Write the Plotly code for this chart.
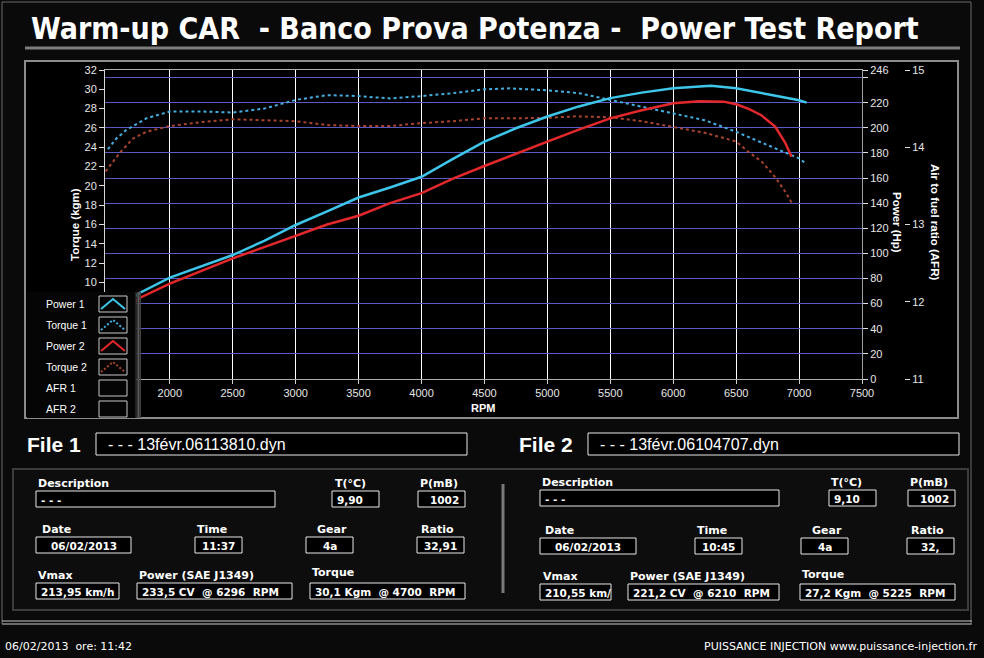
import plotly.graph_objects as go

W, H = 984, 658

# ---- curve data ----
rpm_p1 = [1500, 1760, 2000, 2250, 2500, 2750, 3000, 3250, 3500, 3750, 4000, 4250, 4500,
          4750, 5000, 5250, 5500, 5750, 6000, 6300, 6500, 6750, 7000, 7060]
power_1 = [50, 68.5, 80.7, 90, 98.7, 110, 122.6, 133.5, 144.5, 152.5, 161, 175.2, 189,
           199.6, 209, 217, 223.6, 228, 231.5, 233.5, 231.5, 226.7, 222, 220]

rpm_p2 = [1500, 1760, 2000, 2250, 2500, 2750, 3000, 3250, 3500, 3750, 4000, 4250, 4500,
          4750, 5000, 5250, 5500, 5750, 6000, 6210, 6400, 6500, 6600, 6700, 6810, 6890, 6940]
power_2 = [45, 64.5, 76, 86, 96, 105, 114, 123, 130, 140, 148, 159.5, 169.6,
           179.5, 189, 198.5, 207.5, 214, 219.5, 221.2, 220.8, 218.7, 215, 210, 201, 188, 177]

rpm_t1 = [1508, 1575, 1655, 1814, 2000, 2250, 2500, 2750, 3000, 3250, 3500, 3750, 4000,
          4250, 4500, 4700, 5000, 5250, 5500, 5750, 6000, 6250, 6500, 6750, 7000, 7056]
torque_1 = [23.8, 24.9, 25.8, 27.0, 27.7, 27.7, 27.6, 28.0, 28.9, 29.4, 29.3, 29.05, 29.3,
            29.6, 30.0, 30.1, 29.9, 29.6, 28.9, 28.2, 27.5, 26.8, 25.6, 24.2, 22.85, 22.3]

rpm_t2 = [1490, 1601, 1707, 1814, 2000, 2250, 2500, 2750, 3000, 3250, 3500, 3750, 4000,
          4250, 4500, 4750, 5000, 5225, 5500, 5750, 6000, 6250, 6500, 6600, 6704, 6810, 6890, 6944]
torque_2 = [21.5, 23.4, 24.9, 25.6, 26.2, 26.6, 26.9, 26.8, 26.7, 26.3, 26.2, 26.2, 26.5,
            26.7, 27.0, 27.0, 27.05, 27.2, 27.1, 26.7, 26.1, 25.5, 24.6, 23.5, 22.5, 20.9, 19.4, 18.2]

afr_1 = []
afr_2 = []

rpm_ticks = [2000, 2500, 3000, 3500, 4000, 4500, 5000, 5500, 6000, 6500, 7000, 7500]
torque_ticks = [10, 12, 14, 16, 18, 20, 22, 24, 26, 28, 30, 32]
power_ticks = [0, 20, 40, 60, 80, 100, 120, 140, 160, 180, 200, 220, 240, 246]
power_ticktext = ["0", "20", "40", "60", "80", "100", "120", "140", "160", "180", "200", "220", "", "246"]
afr_ticks = [11, 12, 13, 14, 15]

legend_names = ["Power 1", "Torque 1", "Power 2", "Torque 2", "AFR 1", "AFR 2"]

file_names = ["- - - 13févr.06113810.dyn", "- - - 13févr.06104707.dyn"]
descriptions = ["- - -", "- - -"]
temps = ["9,90", "9,10"]
pressures = ["1002", "1002"]
dates = ["06/02/2013", "06/02/2013"]
times = ["11:37", "10:45"]
gears = ["4a", "4a"]
ratios = ["32,91", "32,"]
vmax = ["213,95 km/h", "210,55 km/"]
power_max = ["233,5 CV  @ 6296  RPM", "221,2 CV  @ 6210  RPM"]
torque_max = ["30,1 Kgm  @ 4700  RPM", "27,2 Kgm  @ 5225  RPM"]

CYAN = "#3ec6ea"
CYAN_DOT = "#44aee0"
RED = "#e2282a"
BROWN = "#a8442e"
FONT = "Liberation Sans"
TAHOMA = "DejaVu Sans"


def X(p):
    return p / W


def Y(p):
    return 1 - p / H


shapes = []
annotations = []


def rect(x0, y0, x1, y1, line="#ffffff", fill="#000000", width=1, layer="below"):
    shapes.append(dict(type="rect", xref="paper", yref="paper", x0=X(x0), x1=X(x1),
                       y0=Y(y0), y1=Y(y1), line=dict(color=line, width=width),
                       fillcolor=fill, layer=layer))


def hline(x0, x1, y, color, width):
    shapes.append(dict(type="line", xref="paper", yref="paper", x0=X(x0), x1=X(x1),
                       y0=Y(y), y1=Y(y), line=dict(color=color, width=width), layer="below"))


def text(x, y, s, size=11, color="#ffffff", family=TAHOMA, anchor="left", angle=0):
    annotations.append(dict(x=X(x), y=Y(y), xref="paper", yref="paper", text=s,
                            showarrow=False, xanchor=anchor, yanchor="middle",
                            textangle=angle, font=dict(size=size, color=color, family=family)))


def field(label, lx, ly, value, bx0, bx1, by, align="left"):
    text(lx, ly, "<b>" + label + "</b>", size=11)
    rect(bx0, by, bx1, by + 16, line="#e8e8e8", fill="#000000", width=1)
    if align == "left":
        text(bx0 + 3, by + 8.5, "<b>" + value + "</b>", size=10.5)
    elif align == "right":
        text(bx1 - 4, by + 8.5, "<b>" + value + "</b>", size=10.5, anchor="right")
    else:
        text((bx0 + bx1) / 2, by + 8.5, "<b>" + value + "</b>", size=10.5, anchor="center")


# ---- background frames ----
rect(2, 2, 971, 624, line="#6a6a6a", fill="rgba(0,0,0,0)", width=1)
hline(25, 960, 48, "#7c7c7c", 3)
rect(25, 61, 958, 418, line="#8c8c8c", fill="#000000", width=2)
rect(13, 469, 968, 610, line="#3c3c3c", fill="#0d0d0d", width=2)
hline(2, 972, 621, "#c8c8c8", 1)
hline(2, 972, 624, "#9a9a9a", 1)
shapes.append(dict(type="line", xref="paper", yref="paper", x0=X(503), x1=X(503),
                   y0=Y(484), y1=Y(593), line=dict(color="#7a7a7a", width=3), layer="below"))

# title
text(29, 29, "<b>Warm-up CAR \u00a0- Banco Prova Potenza - \u00a0Power Test Report</b>",
     size=30, family="Liberation Sans Narrow, DejaVu Sans Condensed, Arial Narrow")

# axis titles
text(75, 225, "<b>Torque (kgm)</b>", size=11.5, family=FONT, anchor="center", angle=-90)
text(897, 222, "<b>Power (Hp)</b>", size=11.5, family=FONT, anchor="center", angle=90)
text(935, 222, "<b>Air to fuel ratio (AFR)</b>", size=11.5, family=FONT, anchor="center", angle=90)
text(483, 408, "<b>RPM</b>", size=11, family=FONT, anchor="center")

# ---- legend panel drawn over the plot ----
rect(27, 292, 135, 418, line="#000000", fill="#050505", width=0, layer="above")
for i, g in enumerate(["#202020", "#3a3a3a", "#5a5a5a", "#404040"]):
    rect(135 + 1.5 * i, 292, 136.5 + 1.5 * i, 418, line=g, fill=g, width=0, layer="above")
leg_styles = [(CYAN, "solid", 2), (CYAN_DOT, "2px,2px", 2), (RED, "solid", 2),
              (BROWN, "2px,2px", 2), (None, None, 0), (None, None, 0)]
for i, name in enumerate(legend_names):
    cy = 304 + 21 * i
    text(44, cy, name, size=10.5, family=FONT)
    rect(99, cy - 8, 127, cy + 8, line="#c8c8c8", fill="#050505", width=1, layer="above")
    col, dash, wd = leg_styles[i]
    if col:
        shapes.append(dict(type="path", xref="paper", yref="paper", layer="above",
                           path="M %f,%f L %f,%f L %f,%f" % (X(101), Y(cy + 5), X(113), Y(cy - 5),
                                                            X(125), Y(cy + 5)),
                           line=dict(color=col, width=wd, dash=dash)))

# ---- file header rows and info panels ----
for k, off in enumerate([0, 492]):
    text(25 + off, 444, "<b>File %d</b>" % (k + 1), size=21, family=FONT)
    rect(96 + off, 433, 467 + off, 455, line="#e8e8e8", fill="#000000", width=1)
    text(106 + off, 444, file_names[k], size=16, family=FONT)

p = 0
field("Description", 36, 483, descriptions[p], 36, 275, 491)
field("T(°C)", 333, 483, temps[p], 332, 379, 491)
field("P(mB)", 418, 483, pressures[p], 418, 465, 491, "right")
field("Date", 40, 529, dates[p], 36, 131, 537, "center")
field("Time", 195, 529, times[p], 195, 242, 537, "center")
field("Gear", 315, 529, gears[p], 306, 353, 537, "center")
field("Ratio", 419, 529, ratios[p], 417, 464, 537, "center")
field("Vmax", 36, 575, vmax[p], 36, 119, 583)
field("Power (SAE J1349)", 137, 575, power_max[p], 137, 292, 583)
field("Torque", 310, 572, torque_max[p], 310, 465, 583)

p = 1
field("Description", 540, 482, descriptions[p], 540, 779, 490)
field("T(°C)", 829, 482, temps[p], 829, 876, 490)
field("P(mB)", 908, 482, pressures[p], 908, 955, 490, "right")
field("Date", 543, 530, dates[p], 540, 636, 538, "center")
field("Time", 695, 530, times[p], 695, 742, 538, "center")
field("Gear", 810, 530, gears[p], 801, 848, 538, "center")
field("Ratio", 909, 530, ratios[p], 907, 954, 538, "center")
field("Vmax", 541, 576, vmax[p], 540, 611, 584)
field("Power (SAE J1349)", 628, 576, power_max[p], 628, 779, 584)
field("Torque", 800, 574, torque_max[p], 800, 955, 584)

# footer
text(3, 646, "06/02/2013  ore: 11:42".replace("  ", "\u00a0 "), size=11)
text(979, 646, "PUISSANCE INJECTION www.puissance-injection.fr", size=11, anchor="right")

# ---- traces ----
fig = go.Figure()
fig.add_trace(go.Scatter(x=rpm_t2, y=torque_2, name="Torque 2", mode="lines", yaxis="y",
                         line=dict(color=BROWN, width=2, dash="3px,3px")))
fig.add_trace(go.Scatter(x=rpm_t1, y=torque_1, name="Torque 1", mode="lines", yaxis="y",
                         line=dict(color=CYAN_DOT, width=2, dash="3px,3px")))
fig.add_trace(go.Scatter(x=rpm_p2, y=power_2, name="Power 2", mode="lines", yaxis="y2",
                         line=dict(color=RED, width=2.5)))
fig.add_trace(go.Scatter(x=rpm_p1, y=power_1, name="Power 1", mode="lines", yaxis="y2",
                         line=dict(color=CYAN, width=2.5)))
fig.add_trace(go.Scatter(x=afr_1, y=afr_1, name="AFR 1", mode="lines", yaxis="y3"))
fig.add_trace(go.Scatter(x=afr_2, y=afr_2, name="AFR 2", mode="lines", yaxis="y3"))

tickfont = dict(family=FONT, size=11, color="#e6e6e6")
fig.update_layout(
    width=W, height=H, autosize=False,
    margin=dict(l=0, r=0, t=0, b=0, pad=0),
    paper_bgcolor="#0a0a0a",
    plot_bgcolor="#000000",
    showlegend=False,
    xaxis=dict(domain=[X(105), X(862)], range=[1485, 7500], tickvals=rpm_ticks,
               showgrid=True, gridcolor="#ffffff", gridwidth=1, zeroline=False,
               showline=True, linecolor="#b0b0b0", mirror=True, ticks="outside",
               ticklen=4, tickcolor="#d0d0d0", tickfont=tickfont, automargin=False),
    yaxis=dict(domain=[Y(379), Y(70)], range=[0, 32], tickvals=torque_ticks,
               showgrid=False, zeroline=False, showline=True, linecolor="#d8d8d8",
               ticks="outside", ticklen=5, tickcolor="#e0e0e0", tickfont=tickfont,
               automargin=False),
    yaxis2=dict(overlaying="y", side="right", anchor="x", range=[0, 246],
                tickvals=power_ticks, ticktext=power_ticktext, showgrid=True,
                gridcolor="#5a5ac4", gridwidth=1, zeroline=False, showline=True,
                linecolor="#a0a0a0", ticks="outside", ticklen=5, tickcolor="#e0e0e0",
                tickfont=tickfont, automargin=False),
    yaxis3=dict(overlaying="y", side="right", anchor="free", position=X(904),
                range=[11, 15], tickvals=afr_ticks, showgrid=False, zeroline=False,
                showline=False, ticks="outside", ticklen=5, tickcolor="#e0e0e0",
                tickfont=tickfont, automargin=False),
    shapes=shapes,
    annotations=annotations,
)

fig.write_html("out.html", config={"displayModeBar": False},
               post_script="document.body.style.margin='0';document.body.style.overflow='hidden';")
